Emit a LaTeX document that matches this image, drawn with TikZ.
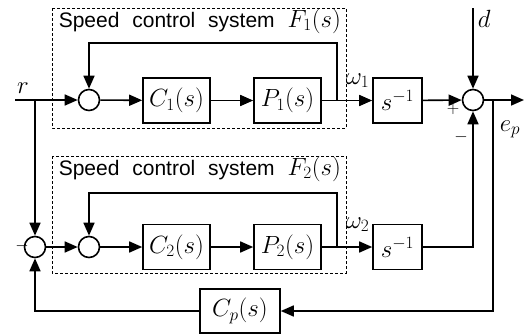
\documentclass[tikz,border=0pt]{standalone}
\usepackage{fontspec}
\newfontfamily\titlefont[WordSpace=2.2]{Liberation Sans}
\usetikzlibrary{arrows.meta,positioning}

\begin{document}
\begin{tikzpicture}
	[x=1pt,y=-1pt,line width=1.6pt,>={Triangle[length=13pt,width=11pt]},
	block/.style={shape=rectangle,draw,minimum width=67pt,minimum height=45pt,inner sep=0pt,font=\fontsize{24}{24}\selectfont},
	sum node/.style={shape=circle,draw,fill=white,minimum size=21pt,inner sep=0pt},
	frame/.style={draw,densely dashed,line width=0.8pt},
	title/.style={anchor=base west,inner sep=0pt,font=\titlefont\fontsize{21}{21}\selectfont},
	label/.style={inner sep=0pt,font=\fontsize{25}{25}\selectfont},
	sign/.style={inner sep=0pt,font=\fontsize{17}{17}\selectfont}]
	\useasboundingbox (0,0) rectangle (528,335);

	% dashed frames
	\draw [frame] (52,8) rectangle (346,128);
	\draw [frame] (52,156) rectangle (346,273);
	\node [title] (t1) at (58,27) {Speed control system {\fontsize{23}{23}\selectfont$F_1(s)$}};
	\node [title] (t2) at (58,175) {Speed control system {\fontsize{23}{23}\selectfont$F_2(s)$}};

	\node [sum node] (s1) at (89,100) {};
	\node [block] (c1) at (176.5,100.5) {$C_1(s)$};
	\node [block] (p1) at (287.5,100.5) {$P_1(s)$};
	\node [block,minimum width=49pt] (i1) at (397.5,100.5) {$s^{-1}$};
	\node [sum node] (s3) at (473,100) {};

	\node [sum node] (s0) at (35,247) {};
	\node [sum node] (s2) at (89,247) {};
	\node [block] (c2) at (176.5,247) {$C_2(s)$};
	\node [block] (p2) at (287.5,247) {$P_2(s)$};
	\node [block,minimum width=49pt] (i2) at (397.5,247) {$s^{-1}$};
	\node [block,minimum width=80pt,minimum height=44pt] (cp) at (240,311) {$C_p(s)$};

	\coordinate (in) at (15,100);
	\coordinate (br) at (35,100);
	\coordinate (f1) at (337,100);
	\coordinate (k1) at (337,43);
	\coordinate (f2) at (337,247);
	\coordinate (k2) at (337,193);
	\coordinate (dd) at (473,8);
	\coordinate (out) at (524,100);
	\coordinate (b3) at (493,100);

	\node [label,anchor=base] (r) at (23,93) {$r$};
	\node [label,anchor=base west] (d) at (477,27) {$d$};
	\node [label,anchor=base west] (ep) at (499,131) {$e_p$};
	\node [label,anchor=base west] (w1) at (345,84) {$\omega_1$};
	\node [label,anchor=base west] (w2) at (345,228) {$\omega_2$};

	\draw (in) -- (br);
	\draw [->] (br) -- (s1);
	\draw [->] (br) -- (s0);
	\draw [->] (s1) -- (c1);
	\draw [->] (c1) -- (p1);
	\draw [->] (p1) -- (i1);
	\draw [->] (i1) -- (s3);
	\draw [->] (f1) -- (k1) -| (s1);
	\draw [->] (dd) -- (s3);
	\draw [->] (s3) -- (out);
	\draw [->] (b3) |- (cp);
	\draw [->] (cp) -| (s0);
	\draw [->] (s0) -- (s2);
	\draw [->] (s2) -- (c2);
	\draw [->] (c2) -- (p2);
	\draw [->] (p2) -- (i2);
	\draw [->] (f2) -- (k2) -| (s2);
	\draw [->] (i2) -| (s3);

	\node [sign] (pl) at (453,109) {$+$};
	\node [sign] (mi) at (461,137) {$-$};
	\node [sign] (m0) at (22,246) {$-$};
\end{tikzpicture}
\end{document}
